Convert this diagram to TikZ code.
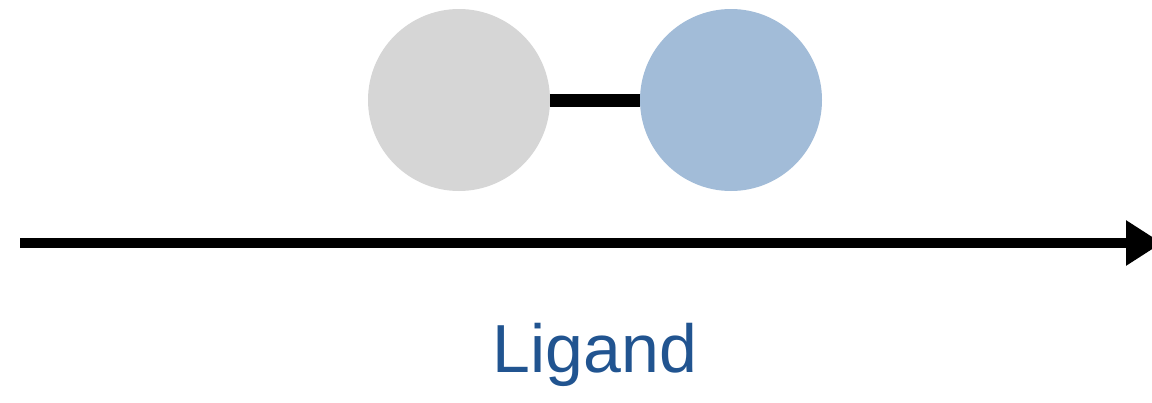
\documentclass[tikz,border=0pt]{standalone}
\usepackage{fontspec}
\setmainfont{Liberation Sans}
\usetikzlibrary{arrows.meta}
\definecolor{atomgray}{RGB}{214,214,214}
\definecolor{atomblue}{RGB}{162,188,216}
\definecolor{labelblue}{RGB}{33,84,144}

\begin{document}
\begin{tikzpicture}[x=1pt, y=-1pt,
    atom/.style={circle, minimum size=182pt, inner sep=0pt}]
  \useasboundingbox (0,0) rectangle (1152,402);

  % Two atoms and the bond
  \node[atom, fill=atomgray] (left) at (459,100) {};
  \node[atom, fill=atomblue] (right) at (731,100) {};
  \draw[black, line width=13pt] (left) -- (right);

  % Axis
  \coordinate (start) at (20,243);
  \coordinate (end) at (1162,243);
  \draw[black, line width=10pt, -{Triangle[length=36pt, width=43pt]}] (start) -- (end);

  % Label
  \node[labelblue, font=\fontsize{68}{80}\selectfont] (ligand) at (595,355) {Ligand};
\end{tikzpicture}
\end{document}
